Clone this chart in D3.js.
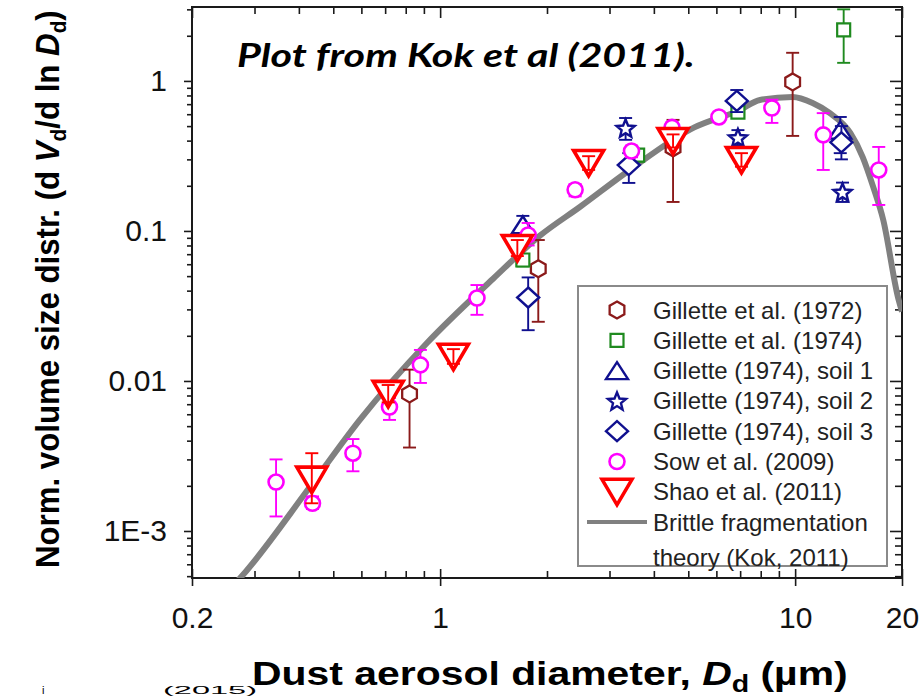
<!DOCTYPE html>
<html>
<head>
<meta charset="utf-8">
<script src="https://cdn.jsdelivr.net/npm/d3@7"></script>
<style>
  html, body { margin: 0; padding: 0; background: #fff; }
  svg { display: block; }
</style>
</head>
<body>
<svg id="chart" width="923" height="697"></svg>
<script>
// ---- Data: diameter D_d (µm), normalized dV/dlnD, lower / upper error limits ----
const gillette1972D  = [0.82, 1.89, 4.53, 9.84];
const gillette1972V  = [0.0082, 0.056, 0.358, 0.985];
const gillette1972Lo = [0.0036, 0.0248, 0.156, 0.43];
const gillette1972Hi = [0.0119, 0.087, 0.55, 1.54];

const gillette1974D  = [1.71, 3.6, 6.9, 13.7];
const gillette1974V  = [0.064, 0.32, 0.62, 2.19];
const gillette1974Lo = [0.058, 0.29, 0.57, 1.32];
const gillette1974Hi = [0.070, 0.35, 0.67, 3.0];

const soil1D  = [1.71, 13.4];
const soil1V  = [0.11, 0.47];
const soil1Lo = [0.08, 0.33];
const soil1Hi = [0.126, 0.575];

const soil2D  = [3.33, 6.9, 13.6];
const soil2V  = [0.486, 0.42, 0.182];
const soil2Lo = [0.405, 0.37, 0.156];
const soil2Hi = [0.566, 0.47, 0.21];

const soil3D  = [1.77, 3.4, 6.85, 13.5];
const soil3V  = [0.036, 0.275, 0.736, 0.39];
const soil3Lo = [0.0218, 0.209, 0.62, 0.30];
const soil3Hi = [0.049, 0.33, 0.87, 0.50];

const sowD  = [0.345, 0.437, 0.568, 0.72, 0.88, 1.27, 1.77, 2.40, 3.46, 4.5, 6.1, 8.6, 12.0, 17.2];
const sowV  = [0.00212, 0.00153, 0.0033, 0.0067, 0.0128, 0.0357, 0.094, 0.188, 0.341, 0.49, 0.575, 0.66, 0.437, 0.255];
const sowLo = [0.00125, 0.0014, 0.0025, 0.0055, 0.0097, 0.0276, 0.080, 0.170, 0.31, 0.45, 0.54, 0.525, 0.255, 0.149];
const sowHi = [0.0030, 0.0017, 0.0041, 0.0077, 0.0161, 0.0436, 0.113, 0.205, 0.37, 0.53, 0.61, 0.75, 0.61, 0.363];

const shaoD  = [0.435, 0.714, 1.09, 1.65, 2.62, 4.53, 7.06];
const shaoV  = [0.0022, 0.0082, 0.0145, 0.077, 0.284, 0.398, 0.297];
const shaoLo = [0.00153, 0.0072, 0.013, 0.068, 0.255, 0.36, 0.268];
const shaoHi = [0.0033, 0.0094, 0.0163, 0.087, 0.315, 0.44, 0.33];

// Brittle fragmentation theory curve (Kok, 2011)
const theoryD = [0.27, 0.286, 0.43, 0.594, 0.918, 1.41, 1.91, 2.48, 3.42, 5.2, 7.0, 7.96, 9.84, 11.2, 12.5, 14.3, 15.5, 16.6, 17.7, 19.5, 20];
const theoryV = [4.7e-4, 5.5e-4, 0.00197, 0.0055, 0.0179, 0.048, 0.093, 0.145, 0.255, 0.49, 0.641, 0.747, 0.782, 0.713, 0.612, 0.45, 0.311, 0.196, 0.119, 0.0359, 0.029];

// Axis ticks
const xMajor = [0.2, 1, 10, 20];
const xMajorLabels = ["0.2", "1", "10", "20"];
const xMinor = [0.3, 0.4, 0.5, 0.6, 0.7, 0.8, 0.9, 2, 3, 4, 5, 6, 7, 8, 9];
const yMajor = [1e-3, 1e-2, 0.1, 1];
const yMajorLabels = ["1E-3", "0.01", "0.1", "1"];
const yMinor = [5e-4, 6e-4, 7e-4, 8e-4, 9e-4,
                2e-3, 3e-3, 4e-3, 5e-3, 6e-3, 7e-3, 8e-3, 9e-3,
                0.02, 0.03, 0.04, 0.05, 0.06, 0.07, 0.08, 0.09,
                0.2, 0.3, 0.4, 0.5, 0.6, 0.7, 0.8, 0.9, 2, 3];
const xDomain = [0.2, 20];
const yDomain = [4.86e-4, 3.11];

// ---- Layout ----
const plot = { left: 192, right: 902, top: 7, bottom: 578 };
const svg = d3.select("#chart");
const sans = "'Liberation Sans', Arial, Helvetica, sans-serif";
const axisColor = "#1a1a1a";

const x = d3.scaleLog().domain(xDomain).range([plot.left, plot.right]);
const y = d3.scaleLog().domain(yDomain).range([plot.bottom, plot.top]);

svg.append("defs").append("clipPath").attr("id", "plotClip")
  .append("rect")
  .attr("x", plot.left).attr("y", plot.top)
  .attr("width", plot.right - plot.left).attr("height", plot.bottom - plot.top);

// ---- Axes ----
function styleAxis(g) {
  g.select(".domain").remove();
  g.selectAll(".tick line").attr("stroke", axisColor).attr("stroke-width", 1.6);
  g.selectAll(".tick text").attr("fill", "#111").attr("font-family", sans).attr("font-size", 30);
}
const noLabel = () => "";

// bottom
svg.append("g").attr("transform", `translate(0,${plot.bottom})`)
  .call(d3.axisBottom(x).tickValues(xMinor).tickSize(-7).tickFormat(noLabel)).call(styleAxis);
svg.append("g").attr("transform", `translate(0,${plot.bottom})`)
  .call(d3.axisBottom(x).tickValues(xMajor).tickSize(-9).tickFormat(noLabel)).call(styleAxis);
svg.append("g").attr("transform", `translate(0,${plot.bottom})`)
  .call(d3.axisBottom(x).tickValues(xMajor).tickSize(8).tickPadding(21)
    .tickFormat((d, i) => xMajorLabels[i])).call(styleAxis);

// top
svg.append("g").attr("transform", `translate(0,${plot.top})`)
  .call(d3.axisTop(x).tickValues(xMinor).tickSize(-7).tickFormat(noLabel)).call(styleAxis);
svg.append("g").attr("transform", `translate(0,${plot.top})`)
  .call(d3.axisTop(x).tickValues(xMajor).tickSize(-11).tickFormat(noLabel)).call(styleAxis);

// left
svg.append("g").attr("transform", `translate(${plot.left},0)`)
  .call(d3.axisLeft(y).tickValues(yMinor).tickSize(5).tickFormat(noLabel)).call(styleAxis);
svg.append("g").attr("transform", `translate(${plot.left},0)`)
  .call(d3.axisLeft(y).tickValues(yMajor).tickSize(8).tickPadding(17)
    .tickFormat((d, i) => yMajorLabels[i])).call(styleAxis);

// right
svg.append("g").attr("transform", `translate(${plot.right},0)`)
  .call(d3.axisRight(y).tickValues(yMinor).tickSize(-7).tickFormat(noLabel)).call(styleAxis);
svg.append("g").attr("transform", `translate(${plot.right},0)`)
  .call(d3.axisRight(y).tickValues(yMajor).tickSize(-12).tickFormat(noLabel)).call(styleAxis);

// frame
svg.append("rect")
  .attr("x", plot.left).attr("y", plot.top)
  .attr("width", plot.right - plot.left).attr("height", plot.bottom - plot.top)
  .attr("fill", "none").attr("stroke", axisColor).attr("stroke-width", 2);

// ---- Theory curve ----
const theory = theoryD.map((d, i) => ({ d, v: theoryV[i] }));
svg.append("path")
  .datum(theory)
  .attr("clip-path", "url(#plotClip)")
  .attr("fill", "none")
  .attr("stroke", "#808080")
  .attr("stroke-width", 6)
  .attr("d", d3.line().x(p => x(p.d)).y(p => y(p.v)).curve(d3.curveMonotoneX));

// ---- Marker shapes ----
function polygon(pts) { return "M" + pts.map(p => p[0].toFixed(2) + "," + p[1].toFixed(2)).join("L") + "Z"; }
function hexagon(r) {
  const pts = [];
  for (let k = 0; k < 6; k++) { const a = (-90 + 60 * k) * Math.PI / 180; pts.push([r * Math.cos(a), r * Math.sin(a)]); }
  return polygon(pts);
}
function star(R, r) {
  const pts = [];
  for (let k = 0; k < 10; k++) {
    const a = (-90 + 36 * k) * Math.PI / 180, rr = k % 2 ? r : R;
    pts.push([rr * Math.cos(a), rr * Math.sin(a) + 1]);
  }
  return polygon(pts);
}
const shapes = {
  hexagon: hexagon(8.5),
  square: "M-6.5,-6.5H6.5V6.5H-6.5Z",
  triUp: polygon([[0, -8.5], [11, 8.5], [-11, 8.5]]),
  star: star(9.5, 4.2),
  diamond: polygon([[0, -10], [11, 0], [0, 10], [-11, 0]]),
  circle: "M7.5,0A7.5,7.5 0 1,1 -7.5,0A7.5,7.5 0 1,1 7.5,0Z",
  triDown: polygon([[-15, -12.5], [15, -12.5], [0, 13]])
};

const seriesList = [
  { name: "Gillette et al. (1972)", d: gillette1972D, v: gillette1972V, lo: gillette1972Lo, hi: gillette1972Hi, color: "#8b1a1a", shape: "hexagon", sw: 2.3 },
  { name: "Gillette et al. (1974)", d: gillette1974D, v: gillette1974V, lo: gillette1974Lo, hi: gillette1974Hi, color: "#1f8a1f", shape: "square", sw: 2.2 },
  { name: "Gillette (1974), soil 1", d: soil1D, v: soil1V, lo: soil1Lo, hi: soil1Hi, color: "#10108f", shape: "triUp", sw: 2.4 },
  { name: "Gillette (1974), soil 2", d: soil2D, v: soil2V, lo: soil2Lo, hi: soil2Hi, color: "#10108f", shape: "star", sw: 2.4 },
  { name: "Gillette (1974), soil 3", d: soil3D, v: soil3V, lo: soil3Lo, hi: soil3Hi, color: "#10108f", shape: "diamond", sw: 2.4 },
  { name: "Sow et al. (2009)", d: sowD, v: sowV, lo: sowLo, hi: sowHi, color: "#ff00ff", shape: "circle", sw: 2.6 },
  { name: "Shao et al. (2011)", d: shaoD, v: shaoV, lo: shaoLo, hi: shaoHi, color: "#ff0000", shape: "triDown", sw: 3.6, barsOnTop: true }
];

// ---- Data points with error bars ----
const marks = svg.append("g").attr("clip-path", "url(#plotClip)");
const capHalf = 6.5;

function drawBars(g, s, pts) {
  const bars = g.selectAll(null).data(pts).join("g").attr("stroke", s.color).attr("stroke-width", 1.9).attr("fill", "none");
  bars.append("line").attr("x1", p => x(p.d)).attr("x2", p => x(p.d)).attr("y1", p => y(p.lo)).attr("y2", p => y(p.hi));
  bars.append("line").attr("x1", p => x(p.d) - capHalf).attr("x2", p => x(p.d) + capHalf).attr("y1", p => y(p.lo)).attr("y2", p => y(p.lo));
  bars.append("line").attr("x1", p => x(p.d) - capHalf).attr("x2", p => x(p.d) + capHalf).attr("y1", p => y(p.hi)).attr("y2", p => y(p.hi));
}

seriesList.forEach(s => {
  const pts = s.d.map((d, i) => ({ d, v: s.v[i], lo: s.lo[i], hi: s.hi[i] }));
  const g = marks.append("g");
  if (!s.barsOnTop) drawBars(g, s, pts);
  g.selectAll(null).data(pts).join("path")
    .attr("transform", p => `translate(${x(p.d)},${y(p.v)})`)
    .attr("d", shapes[s.shape])
    .attr("fill", "#fff")
    .attr("stroke", s.color)
    .attr("stroke-width", s.sw)
    .attr("stroke-linejoin", "miter");
  if (s.barsOnTop) drawBars(g, s, pts);
});

// ---- Legend ----
const legend = svg.append("g");
legend.append("rect").attr("x", 578).attr("y", 286).attr("width", 309).attr("height", 280)
  .attr("fill", "#fff").attr("stroke", "#8a8a8a").attr("stroke-width", 2);
const rowY = 310, rowStep = 30.3;
seriesList.forEach((s, i) => {
  const cy = rowY + i * rowStep;
  legend.append("path").attr("transform", `translate(617,${cy})`).attr("d", shapes[s.shape])
    .attr("fill", "none").attr("stroke", s.color).attr("stroke-width", s.sw);
  legend.append("text").attr("x", 653).attr("y", cy + 8.5).attr("font-family", sans).attr("font-size", 24)
    .attr("fill", "#222").text(s.name);
});
const lineY = rowY + 7 * rowStep;
legend.append("line").attr("x1", 587).attr("x2", 647).attr("y1", lineY).attr("y2", lineY)
  .attr("stroke", "#808080").attr("stroke-width", 4);
legend.append("text").attr("x", 653).attr("y", lineY + 8.5).attr("font-family", sans).attr("font-size", 24)
  .attr("fill", "#222").text("Brittle fragmentation");
legend.append("text").attr("x", 653).attr("y", lineY + 43.5).attr("font-family", sans).attr("font-size", 24)
  .attr("fill", "#222").text("theory (Kok, 2011)");

// ---- Titles ----
function fitText(t, x0, y0, width, rotate) {
  const w = t.node().getComputedTextLength();
  t.attr("transform", `translate(${x0},${y0})${rotate ? " rotate(-90)" : ""} scale(${width / w},1)`);
}

const xTitle = svg.append("text").attr("font-family", sans).attr("font-weight", "bold")
  .attr("font-size", 33).attr("fill", "#000");
xTitle.append("tspan").text("Dust aerosol diameter, ");
xTitle.append("tspan").attr("font-style", "italic").text("D");
xTitle.append("tspan").attr("font-size", 23).attr("dy", 7).text("d");
xTitle.append("tspan").attr("dy", -7).text(" (\u00b5m)");
fitText(xTitle, 252, 685, 596, false);

const yTitle = svg.append("text").attr("font-family", sans).attr("font-weight", "bold")
  .attr("font-size", 33).attr("fill", "#000");
yTitle.append("tspan").text("Norm. volume size distr. (d ");
yTitle.append("tspan").attr("font-style", "italic").text("V");
yTitle.append("tspan").attr("font-size", 22).attr("dy", 7).text("d");
yTitle.append("tspan").attr("dy", -7).text("/d ln ");
yTitle.append("tspan").attr("font-style", "italic").text("D");
yTitle.append("tspan").attr("font-size", 22).attr("dy", 7).text("d");
yTitle.append("tspan").attr("dy", -7).text(")");
fitText(yTitle, 59, 568, 558, true);

const heading = svg.append("text").attr("font-family", "Lato, 'Open Sans', sans-serif")
  .attr("font-weight", "bold").attr("font-style", "italic").attr("font-size", 33).attr("fill", "#000")
  .text("Plot from Kok et al (2011).");
fitText(heading, 237, 67, 458, false);

// small caption fragments along the lower edge
const caption = svg.append("g").attr("font-family", sans).attr("fill", "#000").attr("font-size", 11);
caption.append("text").attr("x", 42).attr("y", 694).text("i");
const year = caption.append("text").text("(2015)");
fitText(year, 163, 694, 94, false);
</script>
</body>
</html>
